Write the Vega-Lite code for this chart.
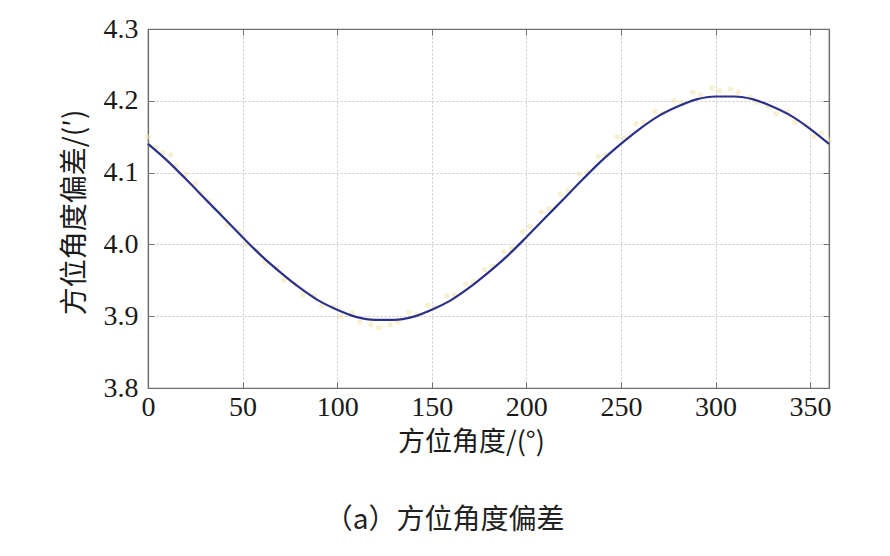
{
  "$schema": "https://vega.github.io/schema/vega-lite/v6.json",
  "width": 681,
  "height": 359,
  "autosize": {"type": "none"},
  "padding": {"left": 148, "top": 29, "right": 61, "bottom": 168},
  "background": "white",
  "title": {
    "text": "（a）方位角度偏差",
    "orient": "bottom",
    "anchor": "middle",
    "dx": -44,
    "offset": 52,
    "font": "Noto Sans CJK SC",
    "fontSize": 28,
    "fontWeight": "normal",
    "color": "#222222"
  },
  "datasets": {
    "curve": [
      {"angle": 0, "dev": 4.140}, {"angle": 10, "dev": 4.117}, {"angle": 20, "dev": 4.091},
      {"angle": 30, "dev": 4.064}, {"angle": 40, "dev": 4.037}, {"angle": 50, "dev": 4.010},
      {"angle": 60, "dev": 3.984}, {"angle": 70, "dev": 3.961}, {"angle": 80, "dev": 3.940},
      {"angle": 90, "dev": 3.922}, {"angle": 100, "dev": 3.909}, {"angle": 110, "dev": 3.899},
      {"angle": 120, "dev": 3.895}, {"angle": 130, "dev": 3.895}, {"angle": 140, "dev": 3.899},
      {"angle": 150, "dev": 3.909}, {"angle": 160, "dev": 3.922}, {"angle": 170, "dev": 3.940},
      {"angle": 180, "dev": 3.961}, {"angle": 190, "dev": 3.984}, {"angle": 200, "dev": 4.010},
      {"angle": 210, "dev": 4.037}, {"angle": 220, "dev": 4.064}, {"angle": 230, "dev": 4.091},
      {"angle": 240, "dev": 4.117}, {"angle": 250, "dev": 4.140}, {"angle": 260, "dev": 4.161},
      {"angle": 270, "dev": 4.179}, {"angle": 280, "dev": 4.192}, {"angle": 290, "dev": 4.202},
      {"angle": 300, "dev": 4.206}, {"angle": 310, "dev": 4.206}, {"angle": 320, "dev": 4.202},
      {"angle": 330, "dev": 4.192}, {"angle": 340, "dev": 4.179}, {"angle": 350, "dev": 4.161},
      {"angle": 360, "dev": 4.140}
    ],
    "measured": [
      {"angle": 0, "dev": 4.150}, {"angle": 4, "dev": 4.135}, {"angle": 8, "dev": 4.128},
      {"angle": 12, "dev": 4.125}, {"angle": 15, "dev": 4.110}, {"angle": 20, "dev": 4.098},
      {"angle": 25, "dev": 4.085}, {"angle": 28, "dev": 4.072}, {"angle": 32, "dev": 4.060},
      {"angle": 38, "dev": 4.045}, {"angle": 42, "dev": 4.028}, {"angle": 48, "dev": 4.018},
      {"angle": 52, "dev": 4.000}, {"angle": 58, "dev": 3.990}, {"angle": 62, "dev": 3.975},
      {"angle": 68, "dev": 3.968}, {"angle": 72, "dev": 3.950}, {"angle": 78, "dev": 3.945},
      {"angle": 82, "dev": 3.930}, {"angle": 88, "dev": 3.928}, {"angle": 92, "dev": 3.915},
      {"angle": 98, "dev": 3.912}, {"angle": 102, "dev": 3.900}, {"angle": 108, "dev": 3.905},
      {"angle": 112, "dev": 3.892}, {"angle": 118, "dev": 3.888}, {"angle": 122, "dev": 3.884},
      {"angle": 128, "dev": 3.888}, {"angle": 132, "dev": 3.892}, {"angle": 138, "dev": 3.905},
      {"angle": 142, "dev": 3.902}, {"angle": 148, "dev": 3.915}, {"angle": 152, "dev": 3.912},
      {"angle": 158, "dev": 3.928}, {"angle": 162, "dev": 3.930}, {"angle": 168, "dev": 3.945},
      {"angle": 172, "dev": 3.948}, {"angle": 178, "dev": 3.965}, {"angle": 182, "dev": 3.970},
      {"angle": 188, "dev": 3.990}, {"angle": 192, "dev": 3.995}, {"angle": 198, "dev": 4.018},
      {"angle": 202, "dev": 4.025}, {"angle": 208, "dev": 4.045}, {"angle": 212, "dev": 4.050},
      {"angle": 218, "dev": 4.070}, {"angle": 222, "dev": 4.075}, {"angle": 228, "dev": 4.098},
      {"angle": 232, "dev": 4.100}, {"angle": 238, "dev": 4.122}, {"angle": 242, "dev": 4.125},
      {"angle": 248, "dev": 4.150}, {"angle": 252, "dev": 4.148}, {"angle": 258, "dev": 4.168},
      {"angle": 262, "dev": 4.170}, {"angle": 268, "dev": 4.185}, {"angle": 272, "dev": 4.182},
      {"angle": 278, "dev": 4.200}, {"angle": 282, "dev": 4.198}, {"angle": 288, "dev": 4.212},
      {"angle": 292, "dev": 4.208}, {"angle": 298, "dev": 4.218}, {"angle": 302, "dev": 4.214},
      {"angle": 308, "dev": 4.216}, {"angle": 312, "dev": 4.212}, {"angle": 318, "dev": 4.205},
      {"angle": 322, "dev": 4.198}, {"angle": 328, "dev": 4.192}, {"angle": 332, "dev": 4.182},
      {"angle": 338, "dev": 4.185}, {"angle": 342, "dev": 4.170}, {"angle": 348, "dev": 4.165},
      {"angle": 352, "dev": 4.150}, {"angle": 356, "dev": 4.155}, {"angle": 360, "dev": 4.145}
    ]
  },
  "layer": [
    {
      "data": {"name": "measured"},
      "mark": {"type": "point", "filled": true, "size": 30, "color": "#f1e6ad", "opacity": 0.55},
      "encoding": {
        "x": {
          "field": "angle",
          "type": "quantitative",
          "scale": {"domain": [0, 360], "nice": false},
          "axis": {
            "orient": "bottom",
            "values": [0, 50, 100, 150, 200, 250, 300, 350],
            "title": "方位角度/(°)",
            "titleX": 323,
            "titleFontSize": 27,
            "titlePadding": 8,
            "labelPadding": 11,
            "labelFlush": false,
            "tickSize": -6
          }
        },
        "y": {
          "field": "dev",
          "type": "quantitative",
          "scale": {"domain": [3.8, 4.3], "nice": false, "zero": false},
          "axis": {
            "orient": "left",
            "values": [3.8, 3.9, 4.0, 4.1, 4.2, 4.3],
            "format": ".1f",
            "title": "方位角度偏差/(′)",
            "titleY": 183,
            "titleFontSize": 28,
            "titlePadding": 14,
            "labelPadding": 16,
            "labelFlush": false,
            "tickSize": -6
          }
        }
      }
    },
    {
      "data": {"name": "curve"},
      "mark": {"type": "line", "color": "#2b3188", "strokeWidth": 2.2, "interpolate": "monotone"},
      "encoding": {
        "x": {
          "field": "angle",
          "type": "quantitative",
          "axis": {
            "orient": "top",
            "values": [0, 50, 100, 150, 200, 250, 300, 350],
            "labels": false,
            "grid": false,
            "title": null,
            "tickSize": -6
          }
        },
        "y": {
          "field": "dev",
          "type": "quantitative",
          "axis": {
            "orient": "right",
            "values": [3.8, 3.9, 4.0, 4.1, 4.2, 4.3],
            "labels": false,
            "grid": false,
            "title": null,
            "tickSize": -6
          }
        }
      }
    }
  ],
  "resolve": {"axis": {"x": "independent", "y": "independent"}},
  "config": {
    "view": {"stroke": "#6f6f6f", "strokeWidth": 1.2},
    "axis": {
      "domainColor": "#6f6f6f",
      "domainWidth": 1.2,
      "tickColor": "#6f6f6f",
      "grid": true,
      "gridColor": "#c8c8c8",
      "gridDash": [2, 2],
      "gridWidth": 1,
      "labelFont": "Liberation Serif",
      "labelFontSize": 28,
      "labelColor": "#1a1a1a",
      "titleFont": "Noto Sans CJK SC",
      "titleFontSize": 24,
      "titleFontWeight": "normal",
      "titleColor": "#1a1a1a"
    }
  }
}
